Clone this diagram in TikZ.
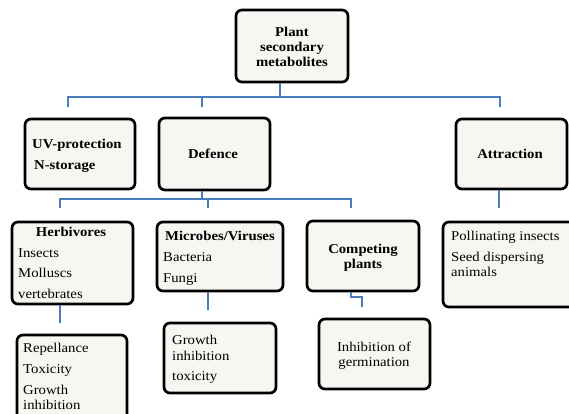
\documentclass[tikz,border=0pt]{standalone}
\usepackage{fontspec}
\setmainfont[FakeStretch=1.09]{Liberation Serif}
\definecolor{boxfill}{HTML}{F7F6F2}
\definecolor{conncol}{HTML}{4A7EBB}
\tikzset{
  box/.style={draw=black, line width=2.7pt, rounded corners=6pt, fill=boxfill, inner sep=0pt},
  conn/.style={draw=conncol, line width=2.8pt},
  lbl/.style={inner sep=0pt, anchor=mid west, font=\fontsize{13.5}{15}\selectfont},
  blbl/.style={lbl, font=\fontsize{13.5}{15}\selectfont\bfseries},
  clbl/.style={inner sep=0pt, anchor=center, align=center, font=\fontsize{13.5}{15}\selectfont},
}
\newcommand{\mybox}[5]{\node[box, minimum width={(#4-#2)*1pt}, minimum height={(#5-#3)*1pt}] (#1) at ({(#2+#4)/2},{(#3+#5)/2}) {};}
\begin{document}
\begin{tikzpicture}[x=1pt,y=-1pt]
\useasboundingbox (0,0) rectangle (569,414);
% boxes
\mybox{top}{236}{10}{348}{82}
\mybox{uv}{25}{119}{135}{189}
\mybox{def}{159}{118}{270}{190}
\mybox{attr}{456}{119}{567}{189}
\mybox{herb}{12}{222}{133}{304}
\mybox{micro}{157}{222}{283}{291}
\mybox{comp}{307}{221}{419}{291}
\mybox{poll}{443}{222}{578}{307}
\mybox{rep}{17}{335}{127}{422}
\mybox{grow}{164}{323}{276}{393}
\mybox{inh}{319}{319}{430}{389}
% texts
\node[clbl, font=\fontsize{13.5}{15}\selectfont\bfseries] (tTop) at (292,46.5) {Plant\\secondary\\metabolites};
\node[blbl] (tUV1) at (32,146) {UV-protection};
\node[blbl] (tUV2) at (34,167) {N-storage};
\node[blbl, anchor=mid] (tDef) at (213,156) {Defence};
\node[blbl, anchor=mid] (tAttr) at (510,156) {Attraction};
\node[blbl, anchor=mid] (tHerb) at (71,234) {Herbivores};
\node[lbl] (tH1) at (18,255) {Insects};
\node[lbl] (tH2) at (18,275) {Molluscs};
\node[lbl] (tH3) at (18,296) {vertebrates};
\node[blbl] (tMic) at (165,238) {Microbes/Viruses};
\node[lbl] (tM1) at (163,259) {Bacteria};
\node[lbl] (tM2) at (163,280) {Fungi};
\node[clbl, font=\fontsize{13.5}{15}\selectfont\bfseries] (tComp) at (363,257.5) {Competing\\plants};
\node[lbl] (tP1) at (451,238) {Pollinating insects};
\node[lbl] (tP2) at (451,259) {Seed dispersing};
\node[lbl] (tP3) at (451,274) {animals};
\node[lbl] (tR1) at (23,350) {Repellance};
\node[lbl] (tR2) at (23,371) {Toxicity};
\node[lbl] (tR3) at (23,392) {Growth};
\node[lbl] (tR4) at (23,407) {inhibition};
\node[lbl] (tG1) at (172,342) {Growth};
\node[lbl] (tG2) at (172,358) {inhibition};
\node[lbl] (tG3) at (172,378) {toxicity};
\node[clbl] (tInh) at (374,356) {Inhibition of\\germination};
% bus 1
\coordinate (b1) at (280,97);
\coordinate (b1L) at (68,97);
\coordinate (b1M) at (202,97);
\coordinate (b1R) at (500,97);
\coordinate (d1L) at (68,107);
\coordinate (d1M) at (202,107);
\coordinate (d1R) at (500,107);
\draw[conn] (b1 |- top.south) -- (b1);
\draw[conn] (d1L) -- (b1L) -- (b1R) -- (d1R);
\draw[conn] (b1M) -- (d1M);
% bus 2
\coordinate (b2) at (202,199);
\coordinate (b2L) at (60,199);
\coordinate (b2M) at (208,199);
\coordinate (b2R) at (351,199);
\coordinate (d2L) at (60,208);
\coordinate (d2M) at (208,208);
\coordinate (d2R) at (351,208);
\draw[conn] (b2 |- def.south) -- (b2);
\draw[conn] (d2L) -- (b2L) -- (b2R) -- (d2R);
\draw[conn] (b2M) -- (d2M);
% attraction
\coordinate (a2) at (499,208);
\draw[conn] (a2 |- attr.south) -- (a2);
% lower links
\coordinate (h2) at (60,323);
\draw[conn] (h2 |- herb.south) -- (h2);
\coordinate (m2) at (208,310);
\draw[conn] (m2 |- micro.south) -- (m2);
\coordinate (c2) at (351,297);
\coordinate (c3) at (362,297);
\coordinate (c4) at (362,307);
\draw[conn] (c2 |- comp.south) -- (c2) -- (c3) -- (c4);
\end{tikzpicture}
\end{document}
